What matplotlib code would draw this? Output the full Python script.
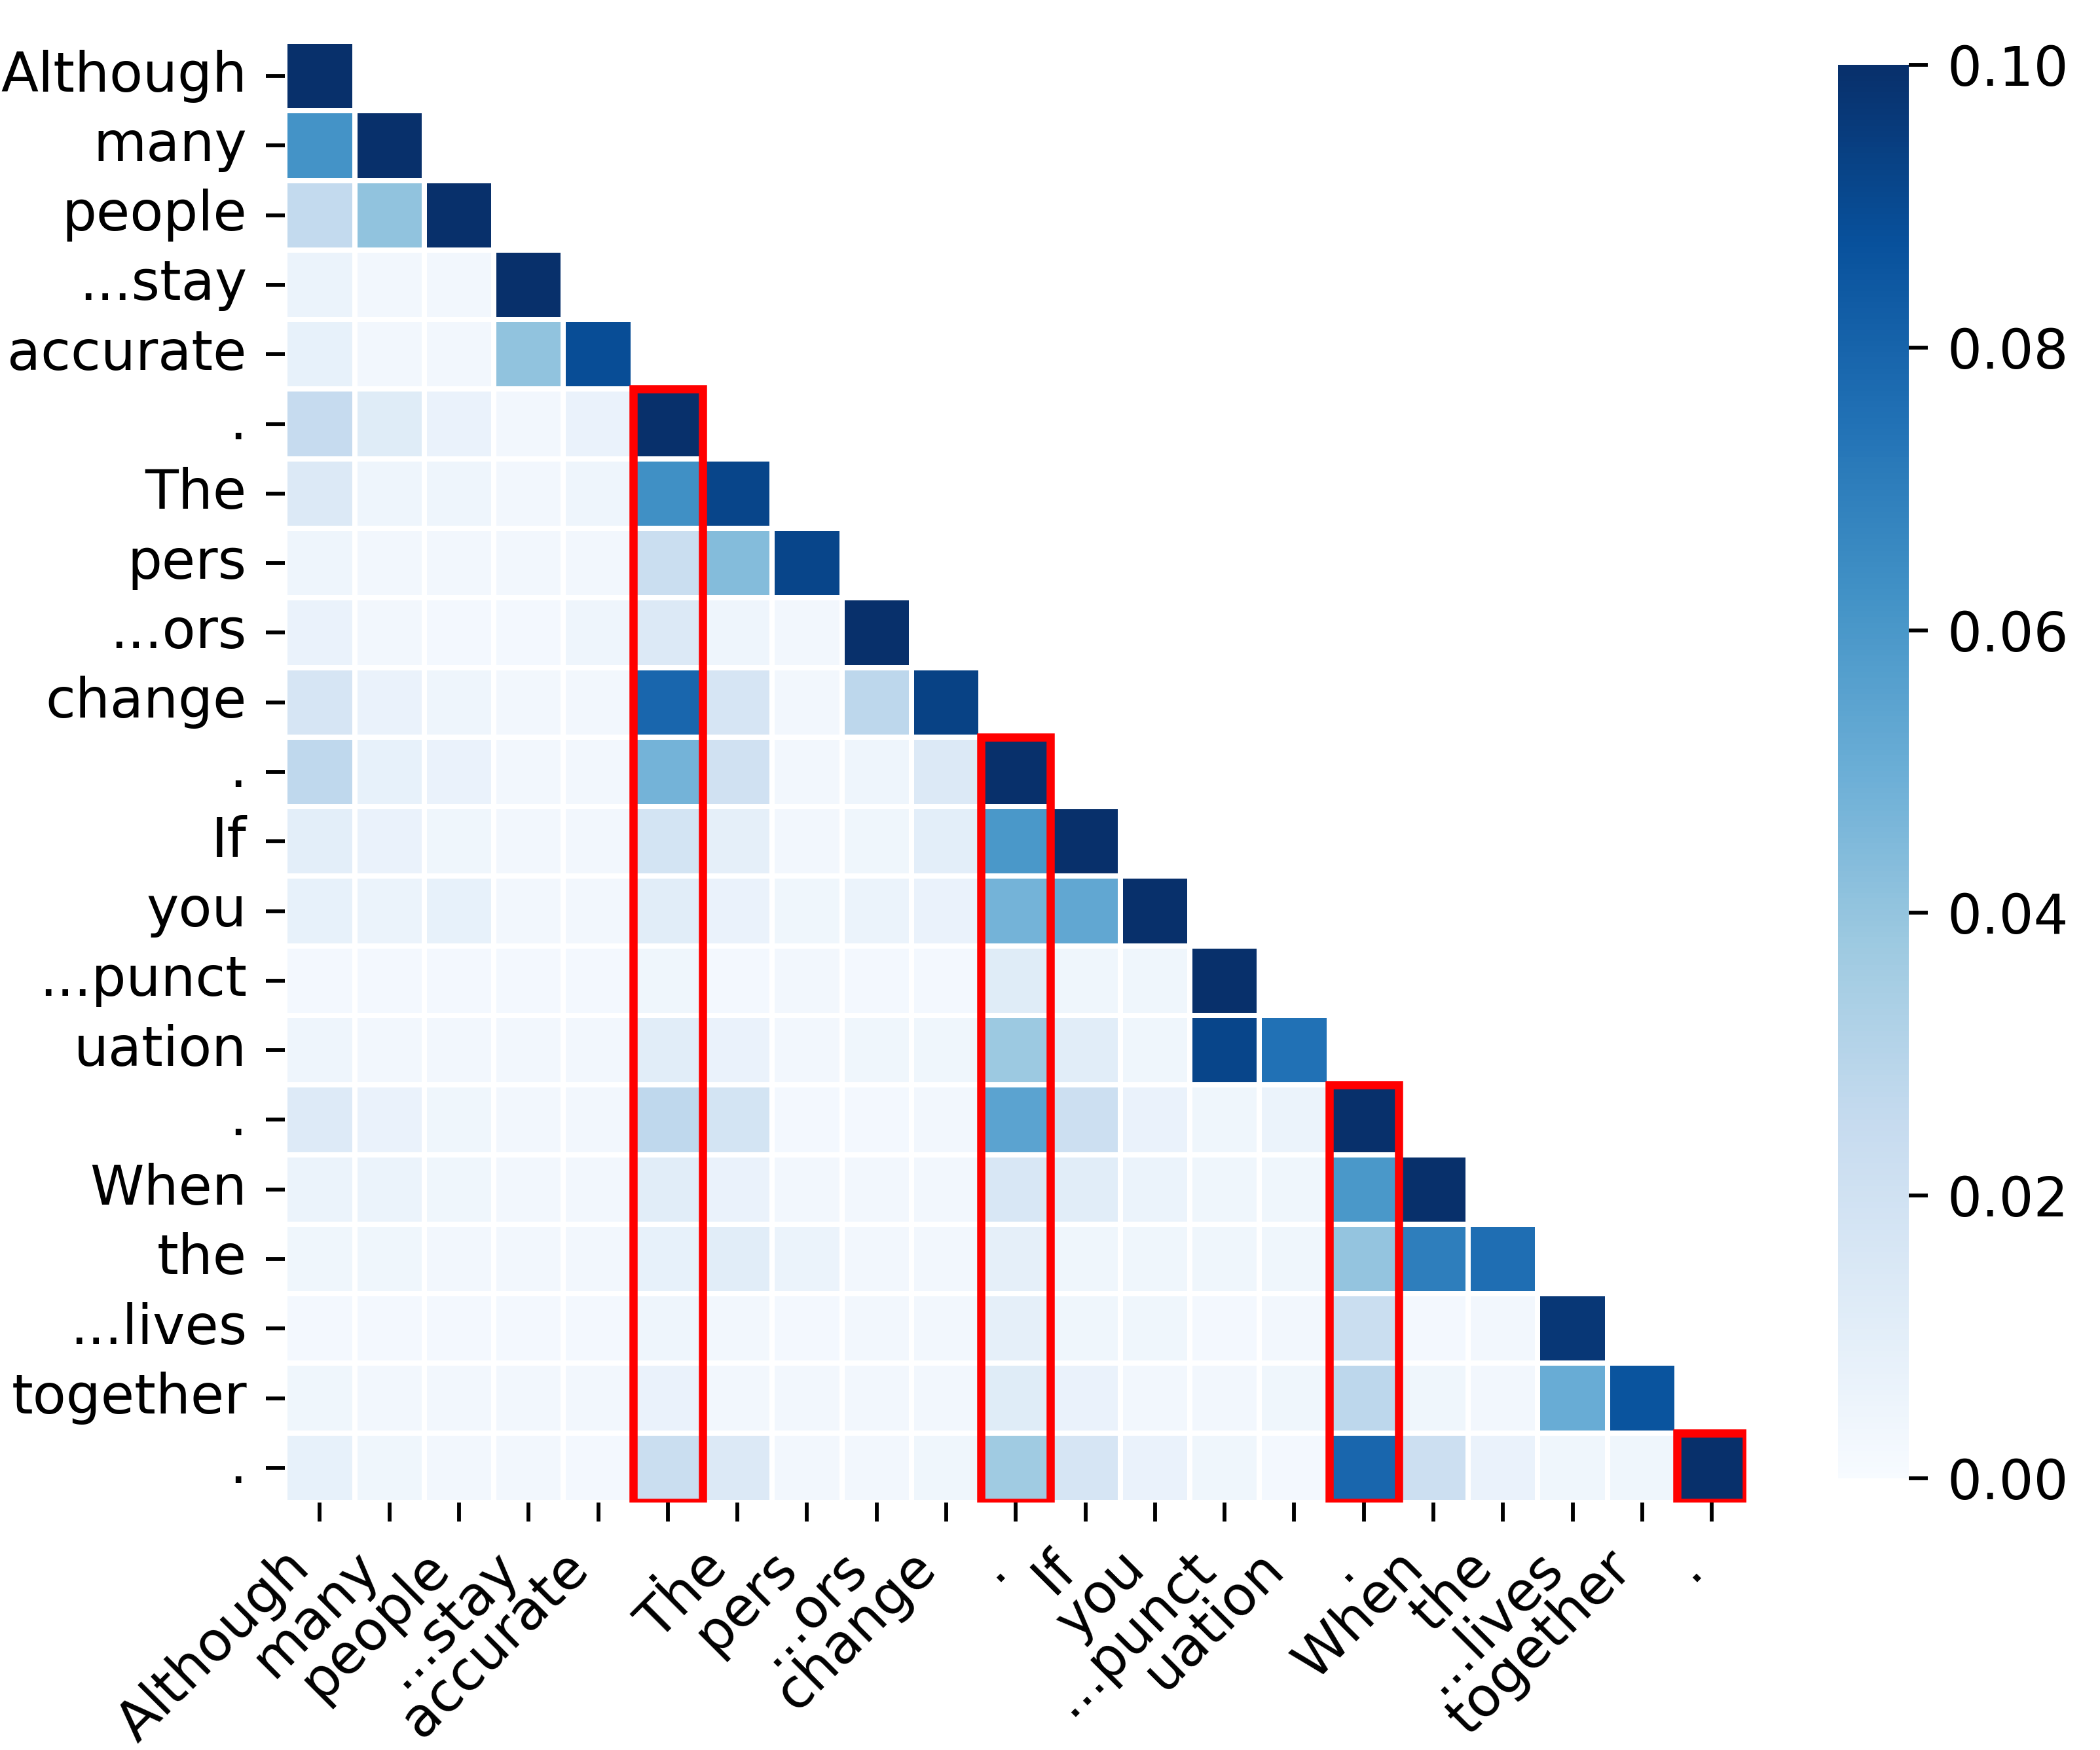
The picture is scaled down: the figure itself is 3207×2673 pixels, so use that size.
import numpy as np
import matplotlib
matplotlib.use("Agg")
import matplotlib.pyplot as plt
import seaborn as sns
from matplotlib.patches import Rectangle

tokens = ["Although", "many", "people", "...stay", "accurate", ".", "The", "pers",
          "...ors", "change", ".", "If", "you", "...punct", "uation", ".", "When",
          "the", "...lives", "together", "."]

rows = [
    [0.100],
    [0.062, 0.100],
    [0.026, 0.041, 0.100],
    [0.006, 0.003, 0.003, 0.100],
    [0.008, 0.003, 0.003, 0.041, 0.089],
    [0.025, 0.012, 0.007, 0.003, 0.007, 0.100],
    [0.014, 0.005, 0.005, 0.003, 0.005, 0.063, 0.092],
    [0.005, 0.003, 0.003, 0.003, 0.003, 0.023, 0.044, 0.092],
    [0.007, 0.003, 0.002, 0.002, 0.005, 0.014, 0.005, 0.003, 0.100],
    [0.017, 0.007, 0.005, 0.003, 0.003, 0.079, 0.017, 0.003, 0.028, 0.093],
    [0.027, 0.008, 0.007, 0.003, 0.003, 0.048, 0.020, 0.003, 0.005, 0.014, 0.100],
    [0.010, 0.007, 0.004, 0.003, 0.003, 0.018, 0.009, 0.003, 0.004, 0.010, 0.060, 0.100],
    [0.008, 0.006, 0.008, 0.003, 0.003, 0.011, 0.007, 0.004, 0.006, 0.007, 0.048, 0.053, 0.100],
    [0.002, 0.002, 0.002, 0.002, 0.002, 0.004, 0.002, 0.003, 0.002, 0.002, 0.012, 0.004, 0.004, 0.100],
    [0.005, 0.003, 0.003, 0.003, 0.003, 0.011, 0.007, 0.003, 0.004, 0.004, 0.038, 0.011, 0.004, 0.092, 0.075],
    [0.013, 0.007, 0.004, 0.003, 0.003, 0.027, 0.018, 0.002, 0.002, 0.003, 0.055, 0.022, 0.007, 0.004, 0.006, 0.100],
    [0.006, 0.006, 0.004, 0.003, 0.003, 0.011, 0.007, 0.003, 0.003, 0.003, 0.016, 0.011, 0.006, 0.004, 0.004, 0.060, 0.100],
    [0.004, 0.004, 0.003, 0.003, 0.003, 0.008, 0.011, 0.006, 0.003, 0.003, 0.009, 0.004, 0.004, 0.004, 0.004, 0.040, 0.070, 0.076],
    [0.002, 0.002, 0.002, 0.002, 0.002, 0.005, 0.003, 0.002, 0.003, 0.003, 0.009, 0.004, 0.004, 0.002, 0.003, 0.023, 0.002, 0.003, 0.097],
    [0.004, 0.003, 0.003, 0.003, 0.003, 0.007, 0.003, 0.003, 0.003, 0.003, 0.012, 0.007, 0.003, 0.003, 0.004, 0.028, 0.004, 0.003, 0.051, 0.086],
    [0.008, 0.004, 0.003, 0.003, 0.002, 0.023, 0.014, 0.003, 0.003, 0.004, 0.037, 0.017, 0.007, 0.004, 0.002, 0.079, 0.022, 0.007, 0.004, 0.004, 0.100],
]

highlight_cols = [5, 10, 15, 20]

n = len(tokens)
data = np.zeros((n, n))
for i, r in enumerate(rows):
    data[i, :len(r)] = r
mask = np.triu(np.ones((n, n), dtype=bool), k=1)

plt.rcParams['font.family'] = ['DejaVu Sans']
plt.rcParams['font.size'] = 20

fig = plt.figure(figsize=(3207 / 300, 2673 / 300), dpi=300)
ax = fig.add_axes([0.13564, 0.14142, 0.69613, 0.83502])
cax = fig.add_axes([0.87527, 0.15526, 0.03368, 0.80771])

sns.heatmap(data, mask=mask, cmap="Blues", vmin=0, vmax=0.1, square=True,
            linewidths=1.5, linecolor="white", ax=ax, cbar_ax=cax,
            xticklabels=tokens, yticklabels=tokens)

ax.set_xticklabels(tokens, rotation=45, ha="right", fontsize=20)
ax.set_yticklabels(tokens, rotation=0, fontsize=20)
ax.tick_params(axis="both", length=7, width=1.4, pad=7, color="black")

cax.tick_params(length=7, width=1.4, pad=7, labelsize=20)
cax.set_yticks([0, 0.02, 0.04, 0.06, 0.08, 0.10])
cax.set_yticklabels(["0.00", "0.02", "0.04", "0.06", "0.08", "0.10"])

for c in highlight_cols:
    ax.add_patch(Rectangle((c, c), 1, n - c, fill=False, edgecolor="red", lw=3))

fig.savefig("out.png", dpi=300)
